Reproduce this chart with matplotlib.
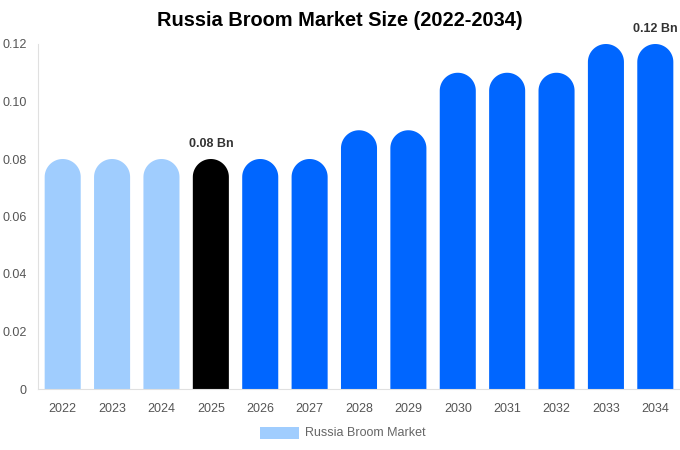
import matplotlib
matplotlib.use("Agg")
import matplotlib.pyplot as plt
import matplotlib.patches as patches
import numpy as np

plt.rcParams['font.family'] = ['Liberation Sans', 'DejaVu Sans']

# data
years = ["2022", "2023", "2024", "2025", "2026", "2027", "2028",
         "2029", "2030", "2031", "2032", "2033", "2034"]
values = [0.08, 0.08, 0.08, 0.08, 0.08, 0.08, 0.09,
          0.09, 0.11, 0.11, 0.11, 0.12, 0.12]
bar_colors = ["#a0cdfe"] * 3 + ["#000000"] + ["#0066ff"] * 9
labels = {3: "0.08 Bn", 12: "0.12 Bn"}
y_ticks = [0, 0.02, 0.04, 0.06, 0.08, 0.10, 0.12]
y_tick_labels = ["0", "0.02", "0.04", "0.06", "0.08", "0.10", "0.12"]

fig = plt.figure(figsize=(6.8, 4.5), dpi=100)
ax = fig.add_axes([38 / 680, 61 / 450, 642 / 680, 345 / 450])
ax.set_xlim(-0.5, len(years) - 0.5)
ax.set_ylim(0, 0.12)

bar_w = 0.73
# radius of the rounded top, in pixels -> convert to data units
ax_h_px = 345
r_px = 18
ry = r_px / ax_h_px * 0.12
theta = np.linspace(np.pi, 0, 40)

for i, (v, c) in enumerate(zip(values, bar_colors)):
    # one polygon: flat bottom, straight sides, half-ellipse top
    xs = [i - bar_w / 2] + list(i + bar_w / 2 * np.cos(theta)) + [i + bar_w / 2]
    ys = [0] + list(v - ry + ry * np.sin(theta)) + [0]
    ax.add_patch(patches.Polygon(np.column_stack([xs, ys]), closed=True,
                                 facecolor=c, edgecolor="none"))
    if i in labels:
        ax.text(i, v + 0.0033, labels[i], ha="center", va="bottom",
                fontsize=9, fontweight="bold", color="#333333")

ax.set_xticks(range(len(years)))
ax.set_xticklabels(years)
ax.set_yticks(y_ticks)
ax.set_yticklabels(y_tick_labels)
ax.tick_params(axis="both", length=0, labelsize=9, colors="#555555")
ax.tick_params(axis="x", pad=10)
ax.tick_params(axis="y", pad=8)

for s in ["top", "right"]:
    ax.spines[s].set_visible(False)
ax.spines["left"].set_color("#e0e0e0")
ax.spines["bottom"].set_color("#e0e0e0")

fig.text(0.5, 1 - 21 / 450, "Russia Broom Market Size (2022-2034)", ha="center",
         va="center", fontsize=14.4, fontweight="bold", color="#000000")

# legend
fig.patches.append(patches.Rectangle((260 / 680, 1 - 439 / 450), 39 / 680, 12 / 450,
                                     transform=fig.transFigure,
                                     facecolor="#a0cdfe", edgecolor="none"))
fig.text(305 / 680, 1 - 433 / 450, "Russia Broom Market", ha="left",
         va="center", fontsize=9, color="#666666")

fig.savefig("out.png", dpi=100)
